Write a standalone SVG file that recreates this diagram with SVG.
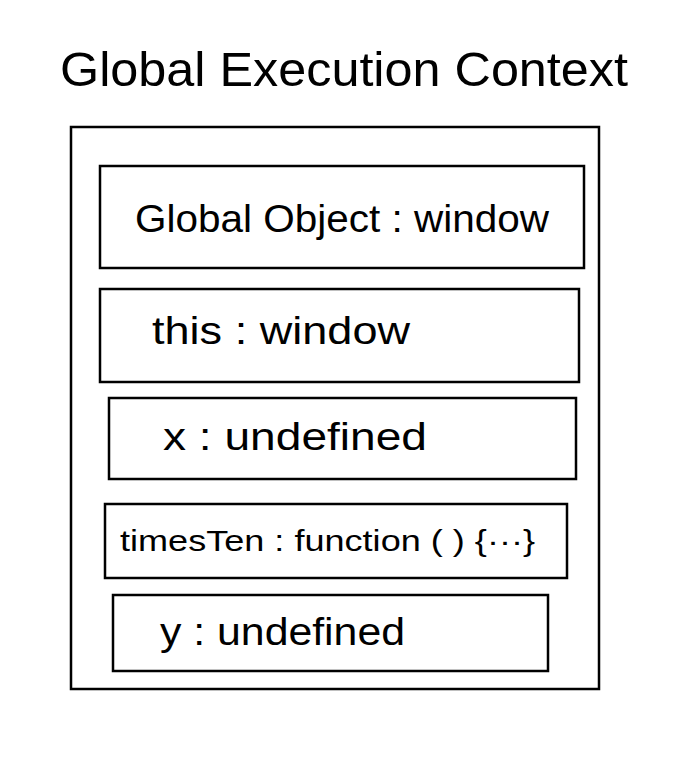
<svg xmlns="http://www.w3.org/2000/svg" width="677" height="768" viewBox="0 0 677 768">
  <style>
    .box { fill: none; stroke: #000; stroke-width: 2.5; }
    .lbl { font-family: "Liberation Sans", "DejaVu Sans", sans-serif; fill: #000; }
  </style>
  <rect width="677" height="768" fill="#fff"/>
  <text class="lbl" x="60" y="86" font-size="48" textLength="568" lengthAdjust="spacingAndGlyphs">Global Execution Context</text>
  <g id="context">
    <rect class="box" x="71" y="127" width="528" height="562"/>
  </g>
  <g id="global-object">
    <rect class="box" x="100" y="166" width="484" height="102"/>
    <text class="lbl" x="135" y="232" font-size="38" textLength="414" lengthAdjust="spacingAndGlyphs">Global Object : window</text>
  </g>
  <g id="this">
    <rect class="box" x="100" y="289" width="479" height="93"/>
    <text class="lbl" x="152" y="344" font-size="38" textLength="258" lengthAdjust="spacingAndGlyphs">this : window</text>
  </g>
  <g id="x">
    <rect class="box" x="109" y="398" width="467" height="81"/>
    <text class="lbl" x="163" y="450" font-size="38" textLength="264" lengthAdjust="spacingAndGlyphs">x : undefined</text>
  </g>
  <g id="timesTen">
    <rect class="box" x="105" y="504" width="462" height="74"/>
    <text class="lbl" x="120" y="551" font-size="30" textLength="415" lengthAdjust="spacingAndGlyphs">timesTen : function ( ) {···}</text>
  </g>
  <g id="y">
    <rect class="box" x="113" y="595" width="435" height="76"/>
    <text class="lbl" x="160" y="645" font-size="38" textLength="245" lengthAdjust="spacingAndGlyphs">y : undefined</text>
  </g>
  <g id="connectors"/>
</svg>
